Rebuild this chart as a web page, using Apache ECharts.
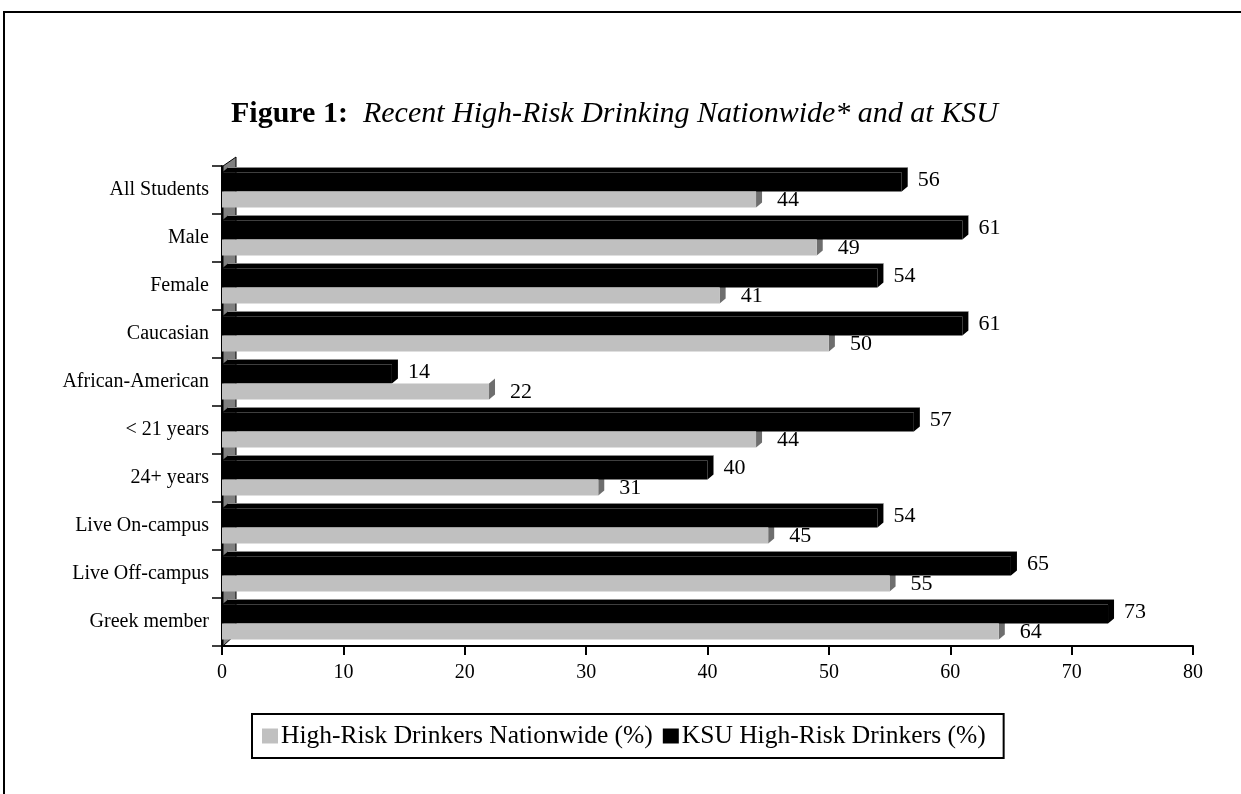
<!DOCTYPE html>
<html>
<head>
<meta charset="utf-8">
<script src="https://cdn.jsdelivr.net/npm/echarts@6/dist/echarts.min.js"></script>
<style>
html,body{margin:0;padding:0;background:#fff;}
#chart{width:1241px;height:794px;}
</style>
</head>
<body>
<div id="chart"></div>
<script>
const categories = ['All Students','Male','Female','Caucasian','African-American','< 21 years','24+ years','Live On-campus','Live Off-campus','Greek member'];
const nationwide = [44,49,41,50,22,44,31,45,55,64];
const ksu = [56,61,54,61,14,57,40,54,65,73];
const xTicks = [0,10,20,30,40,50,60,70,80];
const seriesNames = ['High-Risk Drinkers Nationwide (%)','KSU High-Risk Drinkers (%)'];

const FONT = '"Liberation Serif","Times New Roman",serif';
const DX = 6, DY = 5;
const BW_K = 19, BW_G = 16;

const chart = echarts.init(document.getElementById('chart'), null, {renderer:'canvas'});

function capRender(isBlack){
  return function(params, api){
    const idx = api.value(0);
    const val = api.value(1);
    const c = api.coord([val, idx]);
    const c0 = api.coord([0, idx]);
    const total = BW_K + BW_G;
    let y0, y1;
    if (isBlack){ y0 = c[1] - total/2; y1 = y0 + BW_K; }
    else { y0 = c[1] - total/2 + BW_K; y1 = y0 + BW_G; }
    const x = c[0], xs = c0[0];
    const children = [];
    if (isBlack){
      children.push({type:'polygon', shape:{points:[[xs,y0],[xs+DX,y0-DY],[x+DX,y0-DY],[x+DX,y1-DY],[x,y1],[x,y0]]}, style:{fill:'#000'}});
      children.push({type:'polyline', shape:{points:[[xs+DX,y0-DY],[x+DX,y0-DY]]}, style:{stroke:'#8a8a8a', lineWidth:1, fill:null}});
    } else {
      children.push({type:'polygon', shape:{points:[[x,y0],[x+DX,y0-DY],[x+DX,y1-DY],[x,y1]]}, style:{fill:'#6e6e6e'}});
    }
    return {type:'group', children:children};
  };
}

const option = {
  backgroundColor:'#fff',
  animation:false,
  title:{
    text:'{b|Figure 1:}{i|  Recent High-Risk Drinking Nationwide* and at KSU}',
    left:226, top:94,
    textStyle:{rich:{
      b:{fontFamily:FONT, fontWeight:'bold', fontSize:30, color:'#000'},
      i:{fontFamily:FONT, fontStyle:'italic', fontWeight:'normal', fontSize:30, color:'#000'}
    }}
  },
  legend:{
    data:[seriesNames[0], seriesNames[1]],
    left:252, top:714,
    orient:'horizontal',
    itemWidth:16, itemHeight:15, itemGap:10,
    borderColor:'#000', borderWidth:2,
    padding:[9,18,9,10],
    icon:'rect',
    textStyle:{fontFamily:FONT, fontSize:25.5, lineHeight:26, color:'#000', padding:[0,0,0,-2]}
  },
  grid:{left:222, right:48, top:166, bottom:148, containLabel:false},
  xAxis:{
    type:'value', min:0, max:80, interval:10,
    axisLine:{show:true, lineStyle:{color:'#000', width:2}},
    axisTick:{show:true, length:9, lineStyle:{color:'#000', width:2}},
    splitLine:{show:false},
    axisLabel:{fontFamily:FONT, fontSize:20, color:'#000', margin:17,
      formatter:function(v){return xTicks.indexOf(v)>=0 ? String(v) : '';}}
  },
  yAxis:{
    type:'category', data:categories, inverse:true,
    axisLine:{show:true, lineStyle:{color:'#000', width:2}},
    axisTick:{show:true, length:10, lineStyle:{color:'#000', width:1.5}},
    axisLabel:{fontFamily:FONT, fontSize:20, color:'#000', margin:13}
  },
  series:[
    {
      name:seriesNames[1], type:'bar', data:ksu, barWidth:BW_K, barGap:'0%', z:3,
      itemStyle:{color:'#000'},
      label:{show:true, position:'right', distance:16, offset:[0,-2], fontFamily:FONT, fontSize:22, color:'#000'}
    },
    {
      name:seriesNames[0], type:'bar', data:nationwide, barWidth:BW_G, barGap:'0%', z:3,
      itemStyle:{color:'#c0c0c0'},
      label:{show:true, position:'right', distance:21, offset:[0,1], fontFamily:FONT, fontSize:22, color:'#000'}
    },
    {
      type:'custom', silent:true, z:2,
      data:ksu.map(function(v,i){return [i,v];}),
      encode:{x:1, y:0},
      renderItem:capRender(true)
    },
    {
      type:'custom', silent:true, z:2,
      data:nationwide.map(function(v,i){return [i,v];}),
      encode:{x:1, y:0},
      renderItem:capRender(false)
    }
  ],
  graphic:[]
};
chart.setOption(option);

// decorative 3D wall and outer frame
const pTop = chart.convertToPixel({yAxisIndex:0}, 0);
const pBot = chart.convertToPixel({yAxisIndex:0}, categories.length-1);
const half = (pBot - pTop)/(categories.length-1)/2;
const x0 = chart.convertToPixel({xAxisIndex:0}, 0);
const yT = pTop - half, yB = pBot + half;
chart.setOption({graphic:[
  {type:'polygon', z:1, shape:{points:[[x0+1,yT],[x0+14,yT-9],[x0+14,yB-12],[x0+1,yB]]}, style:{fill:'#808080', stroke:'#000', lineWidth:1}},
  {type:'rect', z:0, shape:{x:4, y:12, width:1300, height:900}, style:{fill:null, stroke:'#000', lineWidth:2}}
]});
</script>
</body>
</html>
